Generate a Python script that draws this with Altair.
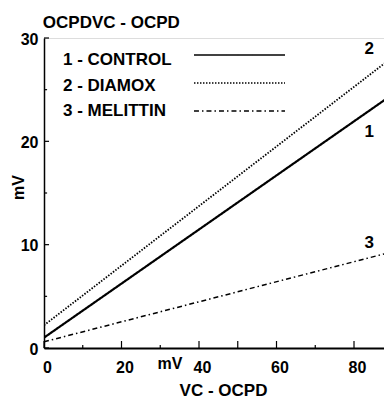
import altair as alt
import pandas as pd

# ---- data ----
series = ["1 - CONTROL", "2 - DIAMOX", "3 - MELITTIN"]
x_ends = [0, 89.8]
control = [1.0, 24.5]
diamox = [2.2, 28.1]
melittin = [0.6, 9.3]
dashes = [[1, 0], [1.5, 1.5], [5, 3, 1.5, 3]]
widths = [2.2, 1.8, 1.5]

x_major = [0, 20, 40, 50, 60, 80]
x_minor = [10, 30, 70]
y_major = [0, 10, 20, 30]
y_minor = [5, 15, 25]

legend_x = [38.7, 62.2]
legend_line_y = [28.36, 25.65, 22.94]
legend_text_y = [27.39, 24.9, 22.45]
legend_text_x = 4.9

curve_labels = ["1", "2", "3"]
curve_label_x = [83.9, 83.9, 83.9]
curve_label_y = [20.4, 28.5, 9.7]

title_text = "OCPDVC - OCPD"
FONT = "Liberation Sans"

X_MAX = 87.74  # visible right edge of the page
xs = alt.Scale(domain=[0, X_MAX], nice=False, zero=False)
ys = alt.Scale(domain=[0, 30], nice=False, zero=False)

x_axis = alt.Axis(values=[0, 20, 40, 60, 80], ticks=False, tickSize=0, grid=False,
                  domainColor="black", domainWidth=2, labelFont=FONT, labelFontSize=16,
                  labelFontWeight="bold", labelColor="black", labelPadding=11,
                  labelOffset=3, labelFlush=False,
                  title="VC - OCPD", titleFont=FONT, titleFontSize=17, titleFontWeight="bold",
                  titleColor="black", titleX=179, titleY=47, titleAlign="center",
                  titleBaseline="alphabetic")
y_axis = alt.Axis(values=y_major, ticks=False, tickSize=0, grid=False,
                  domainColor="black", domainWidth=1.5, labelFont=FONT, labelFontSize=16,
                  labelFontWeight="bold", labelColor="black", labelPadding=6,
                  labelBaseline="middle", labelOffset=1, labelFlush=False,
                  title="mV", titleFont=FONT, titleFontSize=16, titleFontWeight="bold",
                  titleColor="black", titleAngle=270, titleX=-26, titleY=149,
                  titleAlign="center", titleBaseline="middle")


def X(field):
    return alt.X(field, scale=xs, axis=x_axis)


def Y(field):
    return alt.Y(field, scale=ys, axis=y_axis)


rows = []
for name, vals in zip(series, [control, diamox, melittin]):
    for xv, yv in zip(x_ends, vals):
        rows.append({"series": name, "x": xv, "y": yv})
lines_df = pd.DataFrame(rows)

layers = []
for name, d, w in zip(series, dashes, widths):
    sub = lines_df[lines_df.series == name]
    layers.append(
        alt.Chart(sub).mark_line(color="black", strokeWidth=w, strokeDash=d, clip=True).encode(
            x=X("x:Q"), y=Y("y:Q"))
    )

# legend sample lines
for name, ly, d, w in zip(series, legend_line_y, dashes, widths):
    ldf = pd.DataFrame({"x": legend_x, "y": [ly, ly]})
    layers.append(
        alt.Chart(ldf).mark_line(color="black", strokeWidth=min(w, 1.6), strokeDash=d).encode(
            x=X("x:Q"), y=Y("y:Q"))
    )

# legend texts
ltext = pd.DataFrame({"label": series, "x": [legend_text_x] * 3, "y": legend_text_y})
layers.append(
    alt.Chart(ltext).mark_text(font=FONT, fontSize=17, fontWeight="bold", align="left",
                               baseline="alphabetic", color="black").encode(
        x=X("x:Q"), y=Y("y:Q"), text="label:N")
)

# curve numbers
ctext = pd.DataFrame({"label": curve_labels, "x": curve_label_x, "y": curve_label_y})
layers.append(
    alt.Chart(ctext).mark_text(font=FONT, fontSize=17, fontWeight="bold", align="center",
                               baseline="alphabetic", color="black").encode(
        x=X("x:Q"), y=Y("y:Q"), text="label:N")
)

# "mV" unit near x axis and the title above the plot
mv = pd.DataFrame({"label": ["mV"], "x": [32.5], "y": [-2.0]})
layers.append(
    alt.Chart(mv).mark_text(font=FONT, fontSize=16, fontWeight="bold", align="center",
                            baseline="alphabetic", color="black").encode(
        x=X("x:Q"), y=Y("y:Q"), text="label:N")
)
tt = pd.DataFrame({"label": [title_text], "x": [-0.3], "y": [30.97]})
layers.append(
    alt.Chart(tt).mark_text(font=FONT, fontSize=17, fontWeight="bold", align="left",
                            baseline="alphabetic", color="black").encode(
        x=X("x:Q"), y=Y("y:Q"), text="label:N")
)

# inward ticks
xt = pd.DataFrame({"v": x_major + x_minor,
                   "len": [0.68] * len(x_major) + [0.3] * len(x_minor)})
xt["zero"] = 0
layers.append(
    alt.Chart(xt).mark_rule(color="black", strokeWidth=1.2).encode(
        x=X("v:Q"), y=Y("zero:Q"), y2="len:Q")
)
yt = pd.DataFrame({"v": y_major + y_minor,
                   "len": [1.3] * len(y_major) + [0.8] * len(y_minor)})
yt["zero"] = 0
layers.append(
    alt.Chart(yt).mark_rule(color="black", strokeWidth=1.2).encode(
        y=Y("v:Q"), x=X("zero:Q"), x2="len:Q")
)

chart = alt.layer(*layers).properties(
    width=340, height=310,
    autosize=alt.AutoSizeParams(type="none"),
    padding={"left": 36, "top": 30, "right": 0, "bottom": 51},
).configure_view(stroke=None).configure(background="white")

chart.save("out.html", embed_options={"renderer": "svg", "actions": False})
